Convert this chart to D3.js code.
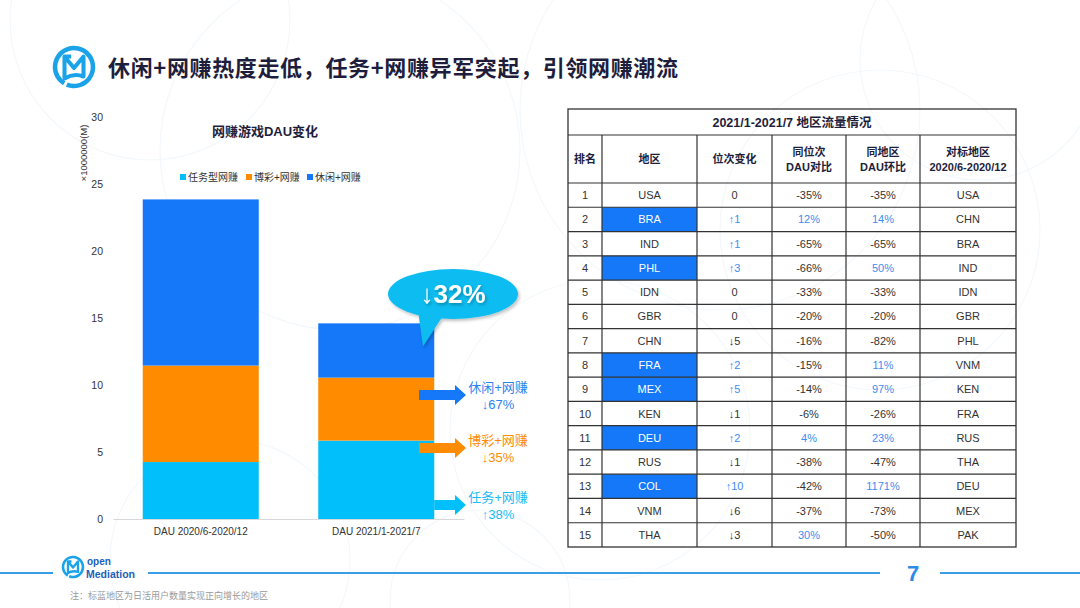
<!DOCTYPE html>
<html><head><meta charset="utf-8">
<script src="https://cdn.jsdelivr.net/npm/d3@7"></script>
<style>
html,body{margin:0;padding:0;background:#fff;}
svg{display:block;font-family:"Liberation Sans",Arial,"Noto Sans CJK SC",sans-serif;}
</style></head>
<body><svg id="c" width="1080" height="608"></svg>
<script>
// ---- Chart data ----
const categories = ["DAU 2020/6-2020/12", "DAU 2021/1-2021/7"];
const seriesNames = ["任务型网赚", "博彩+网赚", "休闲+网赚"];
const taskValues = [4.25, 5.85];
const gambleValues = [7.2, 4.7];
const casualValues = [12.4, 4.05];
const yTicks = [0, 5, 10, 15, 20, 25, 30];
const changeLabels = ["休闲+网赚", "博彩+网赚", "任务+网赚"];
const changeValues = ["↓67%", "↓35%", "↑38%"];
const totalChange = "↓32%";

// ---- Table data ----
const ranks = [1,2,3,4,5,6,7,8,9,10,11,12,13,14,15];
const regions = ["USA","BRA","IND","PHL","IDN","GBR","CHN","FRA","MEX","KEN","DEU","RUS","COL","VNM","THA"];
const rankChange = ["0","↑1","↑1","↑3","0","0","↓5","↑2","↑5","↓1","↑2","↓1","↑10","↓6","↓3"];
const sameRankDau = ["-35%","12%","-65%","-66%","-33%","-20%","-16%","-15%","-14%","-6%","4%","-38%","-42%","-37%","30%"];
const sameRegionDau = ["-35%","14%","-65%","50%","-33%","-20%","-82%","11%","97%","-26%","23%","-47%","1171%","-73%","-50%"];
const benchmark = ["USA","CHN","BRA","IND","IDN","GBR","PHL","VNM","KEN","FRA","RUS","THA","DEU","MEX","PAK"];
const positiveRegions = ["BRA","PHL","FRA","MEX","DEU","COL"];
const headers = ["排名","地区","位次变化","同位次\nDAU对比","同地区\nDAU环比","对标地区\n2020/6-2020/12"];

const cCyan = "#00BFFA", cOrange = "#FF8C00", cBlue = "#1478F8", cTextBlue = "#3C8EF0";
const navy = "#1E1E3C";
const svg = d3.select("#c");

// background decoration (faint circles)
const deco = svg.append("g").attr("fill","none").attr("stroke","#F3F8FC").attr("stroke-width",1.2);
[[150,20,140],[340,150,180],[720,110,200],[880,230,160],[600,430,150],[230,560,120],[980,60,120],[480,600,90]].forEach(d=>{
  deco.append("circle").attr("cx",d[0]).attr("cy",d[1]).attr("r",d[2]);
});

// defs
const defs = svg.append("defs");
const f = defs.append("filter").attr("id","sh").attr("x","-20%").attr("y","-20%").attr("width","140%").attr("height","150%");
f.append("feDropShadow").attr("dx",1.5).attr("dy",2).attr("stdDeviation",1.5).attr("flood-color","#000").attr("flood-opacity",0.25);

// ---- Header logo & title ----
function logo(g, cx, cy, r, color, sw){
  const arc = d3.arc().innerRadius(r - sw/2).outerRadius(r + sw/2)
    .startAngle(-2.6).endAngle(Math.PI*2-2.75);
  g.append("path").attr("transform",`translate(${cx},${cy})`).attr("d",arc()).attr("fill",color);
  const s = r/20;
  g.append("path")
    .attr("transform",`translate(${cx},${cy}) scale(${s})`)
    .attr("d","M-10,12 L-10,-11 L0,1 L10,-11 L10,10 Q0,6 -10,12 Z M-10,-11 L-3,-11")
    .attr("fill","none").attr("stroke",color).attr("stroke-width",sw/s*0.9).attr("stroke-linejoin","round");
}
logo(svg.append("g"), 74, 67, 19, "#1AA3E8", 4.5);
svg.append("text").attr("x",108).attr("y",76).attr("font-size",22).attr("font-weight","bold")
  .attr("fill",navy).attr("font-family","'Noto Sans CJK SC',sans-serif").attr("textLength",570)
  .text("休闲+网赚热度走低，任务+网赚异军突起，引领网赚潮流");

// ---- Bar chart ----
const x = d3.scaleBand().domain(categories).range([113,464]).paddingInner(0.339).paddingOuter(0.1695);
const y = d3.scaleLinear().domain([0,30]).range([519,117]);
const tableRows = categories.map((c,i)=>({cat:c, task:taskValues[i], gamble:gambleValues[i], casual:casualValues[i]}));
const keys = ["task","gamble","casual"];
const colors = [cCyan, cOrange, cBlue];
const stack = d3.stack().keys(keys)(tableRows);

const chart = svg.append("g");
chart.selectAll("g.s").data(stack).join("g").attr("fill",(d,i)=>colors[i])
  .selectAll("rect").data(d=>d).join("rect")
  .attr("x",d=>x(d.data.cat)).attr("width",x.bandwidth())
  .attr("y",d=>y(d[1])).attr("height",d=>y(d[0])-y(d[1]));

// axes
const yAxis = chart.append("g").attr("transform","translate(103,0)")
  .call(d3.axisLeft(y).tickValues(yTicks).tickSize(0).tickPadding(0));
yAxis.select(".domain").remove();
yAxis.selectAll("text").attr("font-size",10.5).attr("fill","#333").attr("font-family","'Liberation Sans',Arial,sans-serif");
const xAxis = chart.append("g").attr("transform","translate(0,519)")
  .call(d3.axisBottom(x).tickSize(0).tickPadding(9));
xAxis.select(".domain").attr("stroke","#D8D8D8");
xAxis.selectAll("text").attr("font-size",10).attr("fill","#333").attr("font-family","'Liberation Sans',Arial,sans-serif");

chart.append("text").attr("transform","translate(87,153) rotate(-90)").attr("text-anchor","middle")
  .attr("font-size",9.5).attr("fill","#333").text("×1000000(M)");
chart.append("text").attr("x",265).attr("y",136).attr("text-anchor","middle").attr("font-size",13)
  .attr("font-weight","bold").attr("fill",navy).text("网赚游戏DAU变化");

// legend
const legX = [180, 246, 307];
seriesNames.forEach((n,i)=>{
  const g = chart.append("g").attr("transform",`translate(${legX[i]},177)`);
  g.append("rect").attr("x",0).attr("y",-3).attr("width",6).attr("height",6).attr("fill",colors[i]);
  g.append("text").attr("x",8).attr("y",3.5).attr("font-size",10).attr("fill","#333").text(n);
});

// callout bubble
const i2 = categories[1];
const topY = y(taskValues[1]+gambleValues[1]+casualValues[1]);
const bub = chart.append("g").attr("filter","url(#sh)");
bub.append("path").attr("d",`M418,${topY-13} L446,${topY-12} L423,${topY+23} Z`).attr("fill","#0EBCF0");
bub.append("ellipse").attr("cx",453).attr("cy",294).attr("rx",65).attr("ry",25).attr("fill","#0EBCF0");
const tt = chart.append("text").attr("x",453).attr("y",303).attr("text-anchor","middle").attr("fill","#fff")
  .attr("font-size",26).attr("font-weight","bold").attr("filter","url(#sh)");
tt.append("tspan").attr("font-weight","normal").text(totalChange.slice(0,1));
tt.append("tspan").text(totalChange.slice(1));

// change arrows
const xr = x(i2) + x.bandwidth();
const arrowY = [395, 448, 505];
const arrowX0 = [419, 419, xr];
const arrowCols = [cBlue, cOrange, cCyan];
const textCols = ["#2A84F0", cOrange, "#18BDF5"];
[0,1,2].forEach(i=>{
  const ay = arrowY[i], x0 = arrowX0[i], x1 = 466, hx = 455;
  chart.append("path").attr("fill",arrowCols[i])
    .attr("d",`M${x0},${ay-5} L${hx},${ay-5} L${hx},${ay-10} L${x1},${ay} L${hx},${ay+10} L${hx},${ay+5} L${x0},${ay+5} Z`);
  chart.append("text").attr("x",498).attr("y",ay-3).attr("text-anchor","middle").attr("font-size",13)
    .attr("fill",textCols[i]).text(changeLabels[i]);
  chart.append("text").attr("x",498).attr("y",ay+14).attr("text-anchor","middle").attr("font-size",13)
    .attr("fill",textCols[i]).text(changeValues[i]);
});

// ---- Table ----
const colX = [568, 602, 697, 772, 846, 920, 1016];
const tTop = 109, tTitleB = 135, tHeadB = 183, rowH = (547-183)/15;
const tbl = svg.append("g");
regions.forEach((r,i)=>{
  if(positiveRegions.includes(r)){
    tbl.append("rect").attr("x",colX[1]).attr("y",tHeadB+i*rowH).attr("width",colX[2]-colX[1]).attr("height",rowH).attr("fill",cBlue);
  }
});
tbl.append("rect").attr("x",colX[0]).attr("y",tTop).attr("width",colX[6]-colX[0]).attr("height",547-tTop)
  .attr("fill","none").attr("stroke","#333").attr("stroke-width",1.3);
const lineAttr = sel=>sel.attr("stroke","#333").attr("stroke-width",1.2);
lineAttr(tbl.append("line").attr("x1",colX[0]).attr("x2",colX[6]).attr("y1",tTitleB).attr("y2",tTitleB));
for(let i=0;i<15;i++){
  const yy = tHeadB + i*rowH;
  lineAttr(tbl.append("line").attr("x1",colX[0]).attr("x2",colX[6]).attr("y1",yy).attr("y2",yy));
}
for(let c=1;c<6;c++){
  lineAttr(tbl.append("line").attr("x1",colX[c]).attr("x2",colX[c]).attr("y1",tTitleB).attr("y2",547));
}
tbl.append("text").attr("x",(colX[0]+colX[6])/2).attr("y",127).attr("text-anchor","middle")
  .attr("font-size",12.5).attr("font-weight","bold").attr("fill",navy).text("2021/1-2021/7 地区流量情况");
headers.forEach((h,c)=>{
  const lines = h.split("\n");
  const cx = (colX[c]+colX[c+1])/2;
  const cy = (tTitleB+tHeadB)/2;
  lines.forEach((l,k)=>{
    tbl.append("text").attr("x",cx).attr("y",cy + 4 + (k-(lines.length-1)/2)*15).attr("text-anchor","middle")
      .attr("font-size",11).attr("font-weight","bold").attr("fill",navy).text(l);
  });
});
const isPos = s => s.startsWith("↑") || (/^\d/.test(s) && s!=="0");
ranks.forEach((rk,i)=>{
  const cy = tHeadB + i*rowH + rowH/2 + 4;
  const cells = [String(rk), regions[i], rankChange[i], sameRankDau[i], sameRegionDau[i], benchmark[i]];
  cells.forEach((v,c)=>{
    let col = "#333";
    if(c===1 && positiveRegions.includes(v)) col = "#fff";
    if((c===2||c===3||c===4) && isPos(v)) col = cTextBlue;
    tbl.append("text").attr("x",(colX[c]+colX[c+1])/2).attr("y",cy).attr("text-anchor","middle")
      .attr("font-size",11).attr("fill",col).text(v);
  });
});

// ---- Footer ----
const ft = svg.append("g");
const fl = [[0,53],[148,880],[940,1080]];
fl.forEach(d=>ft.append("line").attr("x1",d[0]).attr("x2",d[1]).attr("y1",573).attr("y2",573).attr("stroke","#3A9DE8").attr("stroke-width",2));
logo(ft, 73, 567, 10, "#1AA3E8", 2.6);
ft.append("text").attr("x",87).attr("y",565).attr("font-size",10).attr("font-weight","bold").attr("fill","#1D5FB8").text("open");
ft.append("text").attr("x",86).attr("y",578).attr("font-size",10.5).attr("font-weight","bold").attr("fill","#1D5FB8").text("Mediation");
ft.append("text").attr("x",913).attr("y",581).attr("text-anchor","middle").attr("font-size",22).attr("font-weight","bold").attr("fill","#2A8BE8").text("7");
ft.append("text").attr("x",70).attr("y",599).attr("font-size",9).attr("fill","#999").text("注：标蓝地区为日活用户数量实现正向增长的地区");
</script></body></html>
